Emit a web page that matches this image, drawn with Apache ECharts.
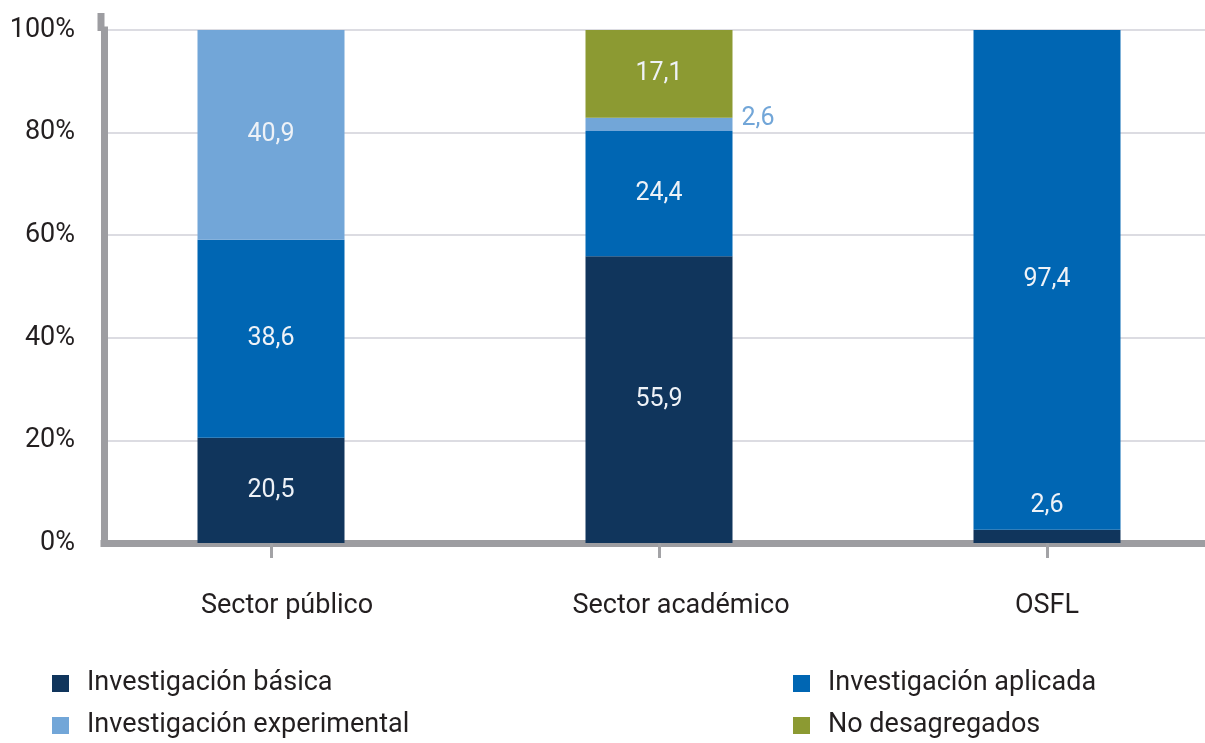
<!DOCTYPE html>
<html>
<head>
<meta charset="utf-8">
<script src="https://cdn.jsdelivr.net/npm/echarts@6/dist/echarts.min.js"></script>
<style>
  html, body { margin: 0; padding: 0; background: #fff; }
  #chart { width: 1205px; height: 743px; }
</style>
</head>
<body>
<div id="chart"></div>
<script>
// datos
var sectores = ['Sector público', 'Sector académico', 'OSFL'];
var basica = [20.5, 55.9, 2.6];
var aplicada = [38.6, 24.4, 97.4];
var experimental = [40.9, 2.6, null];
var noDesagregados = [null, 17.1, null];
var yTicks = [0, 20, 40, 60, 80, 100];

var FONT = 'Roboto';
var FS = 27;
var labelColor = '#eef2f7';

function coma(p) {
    return String(p.value).replace('.', ',');
}

// etiquetas especiales
var basicaData = basica.map(function(v, i) {
    if (i == 2) {
        return { value: v, label: { position: 'top', distance: 11 } };
    }
    return v;
});
var experimentalData = experimental.map(function(v, i) {
    if (i == 1) {
        return { value: v, label: { position: 'right', distance: 9, color: '#72a6d8', offset: [0, -6] } };
    }
    return v;
});

// las etiquetas del eje no quedan centradas bajo la marca en el original
var despl = [32, 44, 0];
var categorias = sectores.map(function(s, i) {
    return { value: s, textStyle: { padding: [0, 0, 0, despl[i]] } };
});

function serie(name, data, color) {
    return {
        name: name,
        type: 'bar',
        stack: 'total',
        xAxisIndex: 0,
        yAxisIndex: 0,
        barWidth: 147,
        data: data,
        itemStyle: { color: color },
        label: {
            show: true,
            position: 'inside',
            formatter: coma,
            color: labelColor,
            fontFamily: FONT,
            fontSize: 25
        }
    };
}

// una leyenda por elemento, para que no se reparta en columnas
function leyenda(left, top, name) {
    return {
        left: left,
        top: top,
        padding: 0,
        itemWidth: 17,
        itemHeight: 17,
        icon: 'rect',
        data: [name],
        textStyle: { color: '#231f20', fontFamily: FONT, fontSize: FS, lineHeight: 22, padding: [0, 0, 0, 13] }
    };
}

var myChart = echarts.init(document.getElementById('chart'));
myChart.setOption({
    animation: false,
    grid: [
        { left: 77, width: 1164, top: 30, bottom: 200, outerBoundsMode: 'none' },
        { left: 104, right: 0, top: 30, bottom: 200, outerBoundsMode: 'none' }
    ],
    xAxis: [
        {
            type: 'category',
            gridIndex: 0,
            data: categorias,
            offset: 6,
            axisLine: { show: false },
            axisTick: { show: true, alignWithLabel: true, length: 15, lineStyle: { color: '#a3a3a6', width: 3 } },
            axisLabel: { color: '#231f20', fontFamily: FONT, fontSize: FS, margin: 44 }
        },
        {
            type: 'value',
            gridIndex: 1,
            min: 0,
            max: 1,
            offset: 4,
            axisLine: { show: true, lineStyle: { color: '#9d9da1', width: 7, cap: 'square' } },
            axisTick: { show: false },
            axisLabel: { show: false },
            splitLine: { show: false }
        }
    ],
    yAxis: [
        {
            type: 'value',
            gridIndex: 0,
            min: 0,
            max: 100,
            show: false
        },
        {
            type: 'value',
            gridIndex: 1,
            min: yTicks[0],
            max: yTicks[yTicks.length - 1],
            interval: 20,
            offset: 3,
            axisLine: { show: true, lineStyle: { color: '#9d9da1', width: 7, cap: 'square' } },
            axisTick: { show: false },
            axisLabel: { formatter: '{value}%', color: '#231f20', fontFamily: FONT, fontSize: FS, margin: 26 },
            splitLine: { show: true, lineStyle: { color: '#dcdce2', width: 2 } }
        }
    ],
    legend: [
        leyenda(52, 670, 'Investigación básica'),
        leyenda(52, 712, 'Investigación experimental'),
        leyenda(793, 670, 'Investigación aplicada'),
        leyenda(793, 712, 'No desagregados')
    ],
    graphic: [
        {
            type: 'rect',
            shape: { x: 97.5, y: 13, width: 7, height: 18 },
            style: { fill: '#9d9da1' }
        }
    ],
    series: [
        serie('Investigación básica', basicaData, '#10355c'),
        serie('Investigación aplicada', aplicada, '#0066b3'),
        serie('Investigación experimental', experimentalData, '#72a6d8'),
        serie('No desagregados', noDesagregados, '#8c9a32')
    ]
});
</script>
</body>
</html>
